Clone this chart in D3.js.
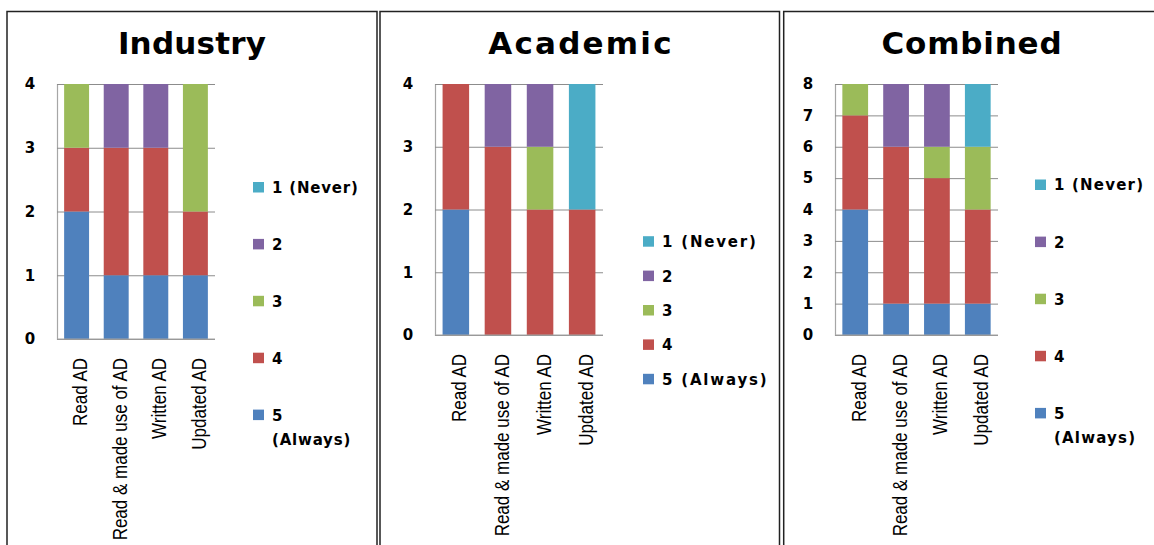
<!DOCTYPE html>
<html><head><meta charset="utf-8">
<script src="https://cdn.jsdelivr.net/npm/d3@7"></script>
<style>
html,body{margin:0;padding:0;background:#fff;}
svg{display:block;}
</style></head>
<body>
<svg id="chart" width="1154" height="545"></svg>
<script>
// ---------- data ----------
const categories = ["Read AD", "Read & made use of AD", "Written AD", "Updated AD"];
const seriesNames = ["5 (Always)", "4", "3", "2", "1 (Never)"]; // stacking order, bottom to top
const seriesColors = ["#4F81BD", "#C0504D", "#9BBB59", "#8064A2", "#4BACC6"];
const panelTitles = ["Industry", "Academic", "Combined"];
const industryTicks = [0, 1, 2, 3, 4];
const academicTicks = [0, 1, 2, 3, 4];
const combinedTicks = [0, 1, 2, 3, 4, 5, 6, 7, 8];

const industryAlways = [2, 1, 1, 1];
const industry4 = [1, 2, 2, 1];
const industry3 = [1, 0, 0, 2];
const industry2 = [0, 1, 1, 0];
const industryNever = [0, 0, 0, 0];

const academicAlways = [2, 0, 0, 0];
const academic4 = [2, 3, 2, 2];
const academic3 = [0, 0, 1, 0];
const academic2 = [0, 1, 1, 0];
const academicNever = [0, 0, 0, 2];

const combinedAlways = [4, 1, 1, 1];
const combined4 = [3, 5, 4, 3];
const combined3 = [1, 0, 1, 2];
const combined2 = [0, 2, 2, 0];
const combinedNever = [0, 0, 0, 2];

// ---------- layout ----------
const panels = [
  { title: panelTitles[0], ticks: industryTicks, series: [industryAlways, industry4, industry3, industry2, industryNever],
    box: [7, 377], titleX: 192, titleLS: 0.2,
    x0: 57, x1: 215, yTop: 84, yBot: 339,
    legSwX: 253, legTxtX: 272, legY0: 187.5, legStep: 56.9, legLS: 0.8, wrapAlways: true },
  { title: panelTitles[1], ticks: academicTicks, series: [academicAlways, academic4, academic3, academic2, academicNever],
    box: [380, 779.5], titleX: 581, titleLS: 2.2,
    x0: 435, x1: 603, yTop: 84, yBot: 335,
    legSwX: 643, legTxtX: 662, legY0: 241.7, legStep: 34.4, legLS: 1.8, wrapAlways: false },
  { title: panelTitles[2], ticks: combinedTicks, series: [combinedAlways, combined4, combined3, combined2, combinedNever],
    box: [783.7, 1175], titleX: 972, titleLS: 0.8,
    x0: 835, x1: 998, yTop: 84, yBot: 335,
    legSwX: 1035, legTxtX: 1054, legY0: 185, legStep: 57.1, legLS: 1.2, wrapAlways: true }
];

const svg = d3.select("#chart");
const boldFont = "'DejaVu Sans', Verdana, sans-serif";
const labelFont = "'Liberation Sans', Arial, sans-serif";

panels.forEach(p => {
  const g = svg.append("g");
  // panel border (open at bottom, beyond the picture)
  g.append("rect")
    .attr("x", p.box[0]).attr("y", 11.5)
    .attr("width", p.box[1] - p.box[0]).attr("height", 600)
    .attr("fill", "none").attr("stroke", "#222").attr("stroke-width", 1.5);

  // title
  g.append("text")
    .attr("x", p.titleX).attr("y", 53.5)
    .attr("text-anchor", "middle")
    .style("font-family", boldFont).style("font-weight", "bold")
    .style("font-size", "31px").style("letter-spacing", p.titleLS + "px")
    .attr("fill", "#000")
    .text(p.title);

  const maxV = d3.max(p.ticks);
  const y = d3.scaleLinear().domain([0, maxV]).range([p.yBot, p.yTop]);
  const x = d3.scaleBand().domain(categories).range([p.x0, p.x1])
    .paddingInner(0.37).paddingOuter(0.18);

  // gridlines + y labels
  const yAxis = d3.axisLeft(y).tickValues(p.ticks).tickFormat(d3.format("d"))
    .tickSize(-(p.x1 - p.x0)).tickPadding(27);
  const ya = g.append("g").attr("transform", `translate(${p.x0},0)`).call(yAxis);
  ya.select(".domain").attr("stroke", "#a6a6a6").attr("stroke-width", 1.2);
  ya.selectAll(".tick line").attr("stroke", "#8c8c8c").attr("stroke-width", 1);
  ya.selectAll(".tick text")
    .attr("text-anchor", "middle")
    .style("font-family", boldFont).style("font-weight", "bold").style("font-size", "15px")
    .attr("fill", "#000");

  // stacked bars
  let base = categories.map(() => 0);
  p.series.forEach((vals, si) => {
    const starts = base.slice();
    g.append("g").selectAll("rect")
      .data(categories.map((c, i) => ({ c, v: vals[i], s: starts[i] })))
      .join("rect")
      .filter(d => d.v > 0)
      .attr("x", d => x(d.c))
      .attr("width", x.bandwidth())
      .attr("y", d => y(d.s + d.v))
      .attr("height", d => y(d.s) - y(d.s + d.v))
      .attr("fill", seriesColors[si]);
    base = base.map((b, i) => b + vals[i]);
  });

  // bottom axis line
  g.append("line")
    .attr("x1", p.x0).attr("x2", p.x1)
    .attr("y1", y(0)).attr("y2", y(0))
    .attr("stroke", "#a6a6a6").attr("stroke-width", 1.2);

  // category labels (rotated, condensed)
  categories.forEach(c => {
    const cx = x(c) + x.bandwidth() / 2 + 3;
    g.append("text")
      .attr("transform", `translate(${cx},${p.yBot + 19}) rotate(-90) scale(0.81,1)`)
      .attr("text-anchor", "end")
      .attr("dy", "0.36em")
      .style("font-family", labelFont).style("font-size", "21px")
      .attr("fill", "#000")
      .text(c);
  });

  // legend (top = 1 (Never))
  const legendOrder = seriesNames.map((n, i) => ({ n, col: seriesColors[i] })).reverse();
  legendOrder.forEach((it, k) => {
    const ly = p.legY0 + k * p.legStep;
    g.append("rect")
      .attr("x", p.legSwX).attr("y", ly - 5.5)
      .attr("width", 11).attr("height", 10.5)
      .attr("fill", it.col);
    const t = g.append("text")
      .attr("x", p.legTxtX).attr("y", ly)
      .attr("dy", "0.36em")
      .style("font-family", boldFont).style("font-weight", "bold")
      .style("font-size", "15px").style("letter-spacing", p.legLS + "px")
      .attr("fill", "#000");
    if (p.wrapAlways && it.n === "5 (Always)") {
      t.text("5");
      g.append("text")
        .attr("x", p.legTxtX).attr("y", ly + 24)
        .attr("dy", "0.36em")
        .style("font-family", boldFont).style("font-weight", "bold")
        .style("font-size", "15px").style("letter-spacing", p.legLS + "px")
        .attr("fill", "#000")
        .text("(Always)");
    } else {
      t.text(it.n);
    }
  });
});
</script>
</body></html>
